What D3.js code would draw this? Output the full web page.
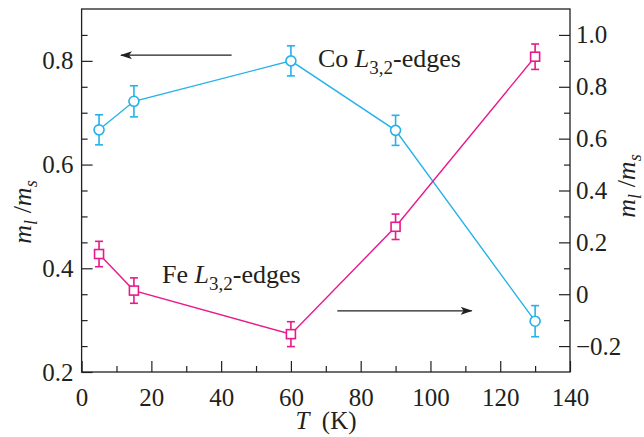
<!DOCTYPE html>
<html><head><meta charset="utf-8">
<script src="https://cdn.jsdelivr.net/npm/d3@7"></script>
<style>body{margin:0;background:#fff}svg{display:block}</style>
</head><body>
<svg id="c" width="644" height="437"></svg>
<script>
const temps = [5, 15, 60, 90, 130];
const coValues = [0.667, 0.722, 0.800, 0.666, 0.298];
const coErrors = [0.029, 0.030, 0.029, 0.029, 0.030];
const feValues = [0.155, 0.014, -0.154, 0.260, 0.916];
const feErrors = [0.049, 0.049, 0.048, 0.049, 0.049];
const xTicks = [0, 20, 40, 60, 80, 100, 120, 140];
const xMinor = [10, 30, 50, 70, 90, 110, 130];
const leftTicks = [0.2, 0.4, 0.6, 0.8];
const leftMinor = [0.25, 0.3, 0.35, 0.45, 0.5, 0.55, 0.65, 0.7, 0.75, 0.85];
const rightTicks = [-0.2, 0, 0.2, 0.4, 0.6, 0.8, 1.0];
const rightMinor = [-0.1, 0.1, 0.3, 0.5, 0.7, 0.9];
const coLabel = ["Co ", "L", "3,2", "-edges"];
const feLabel = ["Fe ", "L", "3,2", "-edges"];

const ink = "#231f20", cyan = "#25b2e8", magenta = "#e8198b";
const font = "'Liberation Serif','Times New Roman',serif";
const L = 81.6, R = 570, T = 9, B = 372;

const svg = d3.select("#c");
const x = d3.scaleLinear().domain([0, 140]).range([L, R]);
const yL = d3.scaleLinear().domain([0.2, 0.9]).range([B, T]);
const yR = d3.scaleLinear().domain([-0.3, 1.1]).range([B, T]);

function fmt(d){ if (d === 0) return "0"; const s = d.toFixed(1); return s.replace("-", "\u2212"); }

function styleAxis(g){
  g.select(".domain").remove();
  g.selectAll("line").attr("stroke", ink).attr("stroke-width", 1.2);
  g.selectAll("text").attr("fill", ink).style("font-family", font).style("font-size", "25px");
}
// bottom
svg.append("g").attr("transform", `translate(0,${B})`)
  .call(d3.axisBottom(x).tickValues(xTicks).tickSize(-11).tickPadding(16).tickFormat(d3.format("d")))
  .call(styleAxis);
svg.append("g").attr("transform", `translate(0,${B})`)
  .call(d3.axisBottom(x).tickValues(xMinor).tickSize(-6).tickFormat(""))
  .call(styleAxis);
// left
svg.append("g").attr("transform", `translate(${L},0)`)
  .call(d3.axisLeft(yL).tickValues(leftTicks).tickSize(-11).tickPadding(8).tickFormat(fmt))
  .call(styleAxis);
svg.append("g").attr("transform", `translate(${L},0)`)
  .call(d3.axisLeft(yL).tickValues(leftMinor).tickSize(-6).tickFormat(""))
  .call(styleAxis);
// right
const rg = svg.append("g").attr("transform", `translate(${R},0)`)
  .call(d3.axisRight(yR).tickValues(rightTicks).tickSize(-11).tickPadding(4).tickFormat(fmt))
  .call(styleAxis);
rg.selectAll("text").attr("x", 6);
svg.append("g").attr("transform", `translate(${R},0)`)
  .call(d3.axisRight(yR).tickValues(rightMinor).tickSize(-6).tickFormat(""))
  .call(styleAxis);

// frame
svg.append("rect").attr("x", L).attr("y", T).attr("width", R - L).attr("height", B - T)
  .attr("fill", "none").attr("stroke", ink).attr("stroke-width", 1.3);

// series
function drawSeries(vals, errs, y, color, shape){
  const pts = temps.map((t, i) => ({t, v: vals[i], e: errs[i]}));
  svg.append("path").datum(pts)
    .attr("d", d3.line().x(d => x(d.t)).y(d => y(d.v)))
    .attr("fill", "none").attr("stroke", color).attr("stroke-width", 1.4);
  const g = svg.append("g").attr("stroke", color).attr("stroke-width", 1.6);
  pts.forEach(d => {
    const cx = x(d.t), y1 = y(d.v + d.e), y2 = y(d.v - d.e);
    g.append("line").attr("x1", cx).attr("x2", cx).attr("y1", y1).attr("y2", y2);
    g.append("line").attr("x1", cx - 4).attr("x2", cx + 4).attr("y1", y1).attr("y2", y1);
    g.append("line").attr("x1", cx - 4).attr("x2", cx + 4).attr("y1", y2).attr("y2", y2);
    if (shape === "circle") {
      g.append("circle").attr("cx", cx).attr("cy", y(d.v)).attr("r", 5).attr("fill", "#fff");
    } else {
      g.append("rect").attr("x", cx - 4.5).attr("y", y(d.v) - 4.5).attr("width", 9).attr("height", 9).attr("fill", "#fff");
    }
  });
}
drawSeries(coValues, coErrors, yL, cyan, "circle");
drawSeries(feValues, feErrors, yR, magenta, "square");

// arrows
const defs = svg.append("defs");
defs.append("marker").attr("id", "ah").attr("viewBox", "0 0 12 8").attr("refX", 11).attr("refY", 4)
  .attr("markerWidth", 12).attr("markerHeight", 8).attr("markerUnits", "userSpaceOnUse").attr("orient", "auto")
  .append("path").attr("d", "M0,0 L12,4 L0,8 L3,4 Z").attr("fill", ink);
svg.append("line").attr("x1", x(43)).attr("x2", x(11.3)).attr("y1", yL(0.811)).attr("y2", yL(0.811))
  .attr("stroke", ink).attr("stroke-width", 1.3).attr("marker-end", "url(#ah)");
svg.append("line").attr("x1", x(73.3)).attr("x2", x(111.8)).attr("y1", yR(-0.064)).attr("y2", yR(-0.064))
  .attr("stroke", ink).attr("stroke-width", 1.3).attr("marker-end", "url(#ah)");

// labels
function edgeLabel(parts, px, py){
  const t = svg.append("text").attr("x", px).attr("y", py).attr("fill", ink)
    .style("font-family", font).style("font-size", "26px");
  t.append("tspan").text(parts[0]);
  t.append("tspan").style("font-style", "italic").text(parts[1]);
  t.append("tspan").attr("dy", 7).style("font-size", "19px").text(parts[2]);
  t.append("tspan").attr("dy", -7).text(parts[3]);
}
edgeLabel(coLabel, 318, 67);
edgeLabel(feLabel, 162, 283);

// axis titles
function ratioTitle(tx, ty){
  const t = svg.append("text").attr("transform", `translate(${tx},${ty}) rotate(-90)`)
    .attr("text-anchor", "middle").attr("fill", ink)
    .style("font-family", font).style("font-size", "26px").style("font-style", "italic");
  t.append("tspan").text("m");
  t.append("tspan").attr("dy", 6).style("font-size", "18px").text("l");
  t.append("tspan").attr("dy", -6).style("font-style", "normal").text(" /");
  t.append("tspan").text("m");
  t.append("tspan").attr("dy", 6).style("font-size", "18px").text("s");
}
ratioTitle(31, 212);
ratioTitle(635, 186);

const xt = svg.append("text").attr("x", 326).attr("y", 429).attr("text-anchor", "middle").attr("fill", ink)
  .style("font-family", font).style("font-size", "25px");
xt.append("tspan").style("font-style", "italic").text("T");
xt.append("tspan").text("\u2002(K)");
</script>
</body></html>
